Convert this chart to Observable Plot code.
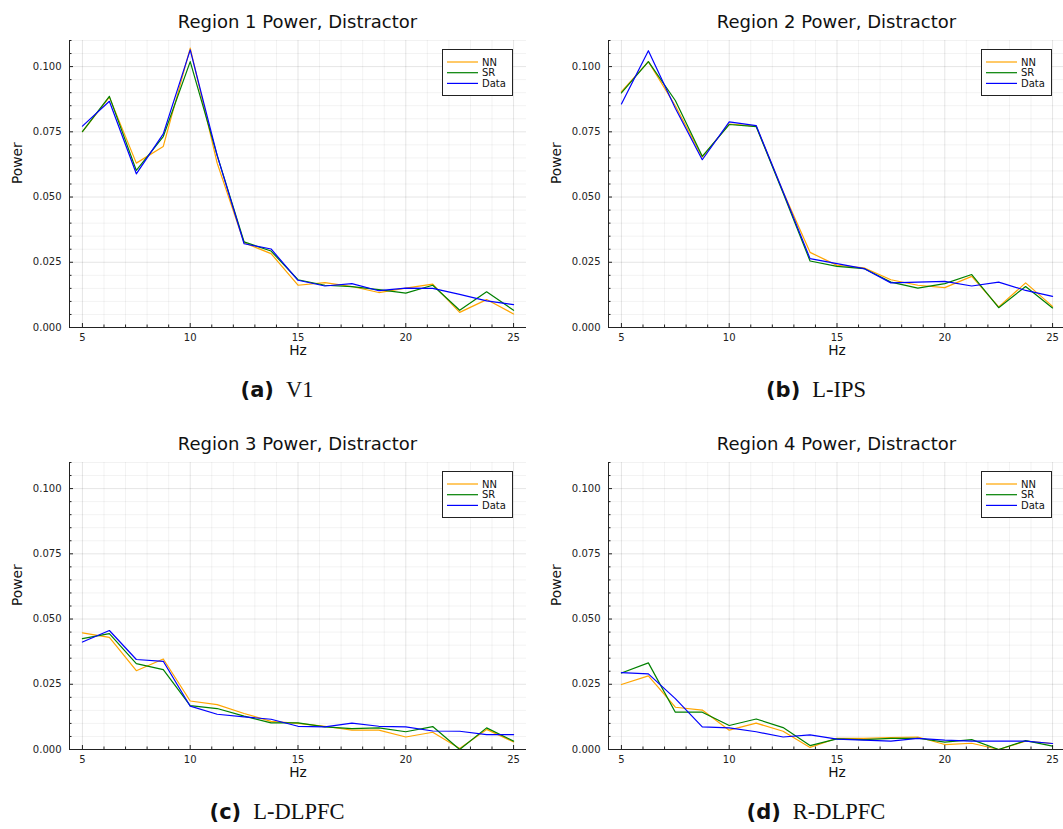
<!DOCTYPE html>
<html><head><meta charset="utf-8">
<script src="https://cdn.jsdelivr.net/npm/d3@7"></script>
<script src="https://cdn.jsdelivr.net/npm/@observablehq/plot@0.6"></script>
<style>
body{margin:0;background:#fff;overflow:hidden}
#root{position:relative;width:1063px;height:829px;overflow:hidden;font-family:"DejaVu Sans",sans-serif}
.title{position:absolute;font-size:18px;line-height:24px;color:#111;white-space:nowrap;transform:translateX(-50%)}
.cap{position:absolute;line-height:30px;white-space:nowrap;color:#111;transform:translateX(-50%)}
.cap b{font-family:"DejaVu Sans",sans-serif;font-weight:bold;font-size:21px}
.cap span{font-family:"Liberation Serif",serif;font-size:22.5px;margin-left:12px}
#root svg{position:absolute}
</style></head><body><div id="root"></div>
<script>
// ---- data ----
const hz = [5, 6.25, 7.5, 8.75, 10, 11.25, 12.5, 13.75, 15, 16.25, 17.5, 18.75, 20, 21.25, 22.5, 23.75, 25];
const seriesNames = ["NN", "SR", "Data"];
const seriesColors = ["#FFA500", "#008000", "#0000FF"];
const titles = ["Region 1 Power, Distractor", "Region 2 Power, Distractor", "Region 3 Power, Distractor", "Region 4 Power, Distractor"];
const capLetters = ["(a)", "(b)", "(c)", "(d)"];
const capNames = ["V1", "L-IPS", "L-DLPFC", "R-DLPFC"];
const xMajor = [5, 10, 15, 20, 25];
const yMajor = [0, 0.025, 0.05, 0.075, 0.1];
const xDomain = [4.4, 25.6];
const yDomain = [0, 0.11];

const nn1   = [0.0751, 0.0883, 0.0630, 0.0694, 0.1071, 0.0630, 0.0325, 0.0283, 0.0162, 0.0172, 0.0157, 0.0134, 0.0151, 0.0166, 0.0058, 0.0107, 0.0052];
const sr1   = [0.0751, 0.0886, 0.0602, 0.0732, 0.1019, 0.0660, 0.0328, 0.0293, 0.0183, 0.0162, 0.0157, 0.0145, 0.0132, 0.0162, 0.0066, 0.0137, 0.0066];
const data1 = [0.0772, 0.0867, 0.0589, 0.0742, 0.1064, 0.0660, 0.0321, 0.0301, 0.0181, 0.0159, 0.0168, 0.0141, 0.0151, 0.0150, 0.0127, 0.0102, 0.0088];

const nn2   = [0.0904, 0.1019, 0.0850, 0.0653, 0.0780, 0.0772, 0.0520, 0.0288, 0.0238, 0.0229, 0.0183, 0.0162, 0.0153, 0.0196, 0.0079, 0.0171, 0.0081];
const sr2   = [0.0899, 0.1019, 0.0870, 0.0656, 0.0778, 0.0770, 0.0515, 0.0255, 0.0234, 0.0226, 0.0174, 0.0151, 0.0168, 0.0203, 0.0076, 0.0157, 0.0075];
const data2 = [0.0857, 0.1061, 0.0840, 0.0643, 0.0788, 0.0774, 0.0520, 0.0264, 0.0245, 0.0226, 0.0171, 0.0174, 0.0177, 0.0159, 0.0174, 0.0142, 0.0119];

const nn3   = [0.0447, 0.0430, 0.0302, 0.0347, 0.0186, 0.0172, 0.0138, 0.0108, 0.0100, 0.0089, 0.0074, 0.0074, 0.0048, 0.0066, 0.0004, 0.0077, 0.0029];
const sr3   = [0.0425, 0.0444, 0.0329, 0.0306, 0.0168, 0.0157, 0.0128, 0.0102, 0.0102, 0.0087, 0.0080, 0.0083, 0.0068, 0.0088, 0.0000, 0.0083, 0.0032];
const data3 = [0.0412, 0.0456, 0.0345, 0.0338, 0.0166, 0.0135, 0.0125, 0.0116, 0.0089, 0.0087, 0.0101, 0.0089, 0.0087, 0.0071, 0.0070, 0.0057, 0.0057];

const nn4   = [0.0249, 0.0282, 0.0162, 0.0151, 0.0074, 0.0101, 0.0070, 0.0008, 0.0043, 0.0043, 0.0046, 0.0048, 0.0019, 0.0024, 0.0000, 0.0032, 0.0023];
const sr4   = [0.0293, 0.0332, 0.0143, 0.0143, 0.0092, 0.0117, 0.0084, 0.0015, 0.0041, 0.0038, 0.0043, 0.0043, 0.0028, 0.0038, 0.0000, 0.0034, 0.0013];
const data4 = [0.0295, 0.0290, 0.0195, 0.0087, 0.0083, 0.0068, 0.0048, 0.0056, 0.0040, 0.0036, 0.0032, 0.0043, 0.0036, 0.0032, 0.0032, 0.0032, 0.0023];

const regionSeries = [[nn1, sr1, data1], [nn2, sr2, data2], [nn3, sr3, data3], [nn4, sr4, data4]];

// ---- layout ----
const W = 530, H = 340, mL = 69, mR = 4, mT = 10, mB = 43;
const colLeft = [0, 539];
const svgTop = [30, 452];
const titleCY = [22, 444];
const capCY = [390, 812];
const capCX = [277, 816];

const xMinor = d3.range(5, 26).filter(v => !xMajor.includes(v));
const yMinor = d3.range(1, 23).map(i => +(i * 0.005).toFixed(3)).filter(v => !yMajor.includes(v));

const root = document.getElementById("root");

regionSeries.forEach((series, idx) => {
  const col = idx % 2, row = Math.floor(idx / 2);
  const rows = [];
  series.forEach((vals, si) => vals.forEach((v, i) => rows.push({hz: hz[i], power: v, series: seriesNames[si]})));

  const chart = Plot.plot({
    width: W, height: H,
    marginLeft: mL, marginRight: mR, marginTop: mT, marginBottom: mB,
    style: {fontFamily: "DejaVu Sans, sans-serif", fontSize: "10px", background: "transparent", overflow: "visible"},
    x: {domain: xDomain},
    y: {domain: yDomain},
    color: {domain: seriesNames, range: seriesColors},
    marks: [
      Plot.gridX(xMinor, {stroke: "#000", strokeOpacity: 0.05}),
      Plot.gridX(xMajor, {stroke: "#000", strokeOpacity: 0.1}),
      Plot.gridY(yMinor, {stroke: "#000", strokeOpacity: 0.05}),
      Plot.gridY(yMajor, {stroke: "#000", strokeOpacity: 0.1}),
      Plot.line(rows, {x: "hz", y: "power", stroke: "series", z: "series", strokeWidth: 1.2}),
      Plot.ruleY([yDomain[0]], {stroke: "#222", strokeWidth: 1}),
      Plot.ruleX([xDomain[0]], {stroke: "#222", strokeWidth: 1}),
      Plot.axisX(xMajor, {anchor: "bottom", tickSize: -4, tickFormat: () => "", label: null, stroke: "#222"}),
      Plot.axisX(xMinor, {anchor: "bottom", tickSize: -2.5, tickFormat: () => "", label: null, stroke: "#222"}),
      Plot.axisX(xMajor, {anchor: "bottom", tickSize: 0, tickPadding: 6, label: null, fill: "#222", fontSize: 10}),
      Plot.axisY(yMajor, {anchor: "left", tickSize: -4, tickFormat: () => "", label: null, stroke: "#222"}),
      Plot.axisY(yMinor, {anchor: "left", tickSize: -2.5, tickFormat: () => "", label: null, stroke: "#222"}),
      Plot.axisY(yMajor, {anchor: "left", tickSize: 0, tickPadding: 8, tickFormat: d3.format(".3f"), label: null, fill: "#222", fontSize: 10}),
      Plot.text(["Hz"], {text: d => d, frameAnchor: "bottom", dy: 27, fontSize: 13.75, fill: "#111"}),
      Plot.text(["Power"], {text: d => d, frameAnchor: "left", dx: -52, rotate: -90, fontSize: 13.75, fill: "#111"})
    ]
  });
  chart.style.left = colLeft[col] + "px";
  chart.style.top = svgTop[row] + "px";

  // legend
  const svg = d3.select(chart);
  const bw = 70, bh = 46;
  const bx = W - mR - 14 - bw, by = mT + 9;
  const g = svg.append("g").attr("transform", `translate(${bx},${by})`)
    .attr("text-anchor", "start");
  g.append("rect").attr("x", 0.5).attr("y", 0.5).attr("width", bw).attr("height", bh)
    .attr("fill", "#fff").attr("stroke", "#222").attr("stroke-width", 1);
  seriesNames.forEach((s, i) => {
    const yy = 13 + i * 10.7;
    g.append("line").attr("x1", 5).attr("x2", 36).attr("y1", yy).attr("y2", yy)
      .attr("stroke", seriesColors[i]).attr("stroke-width", 1.2);
    g.append("text").attr("x", 40).attr("y", yy).attr("dy", "0.35em")
      .attr("text-anchor", "start")
      .attr("font-size", 10).attr("fill", "#111").text(s);
  });
  root.appendChild(chart);

  const t = document.createElement("div");
  t.className = "title";
  t.textContent = titles[idx];
  t.style.left = (colLeft[col] + mL + (W - mL - mR) / 2) + "px";
  t.style.top = (titleCY[row] - 12) + "px";
  root.appendChild(t);

  const c = document.createElement("div");
  c.className = "cap";
  const b = document.createElement("b"); b.textContent = capLetters[idx];
  const s = document.createElement("span"); s.textContent = capNames[idx];
  c.appendChild(b); c.appendChild(s);
  c.style.left = capCX[col] + "px";
  c.style.top = (capCY[row] - 15) + "px";
  root.appendChild(c);
});
</script>
</body></html>
